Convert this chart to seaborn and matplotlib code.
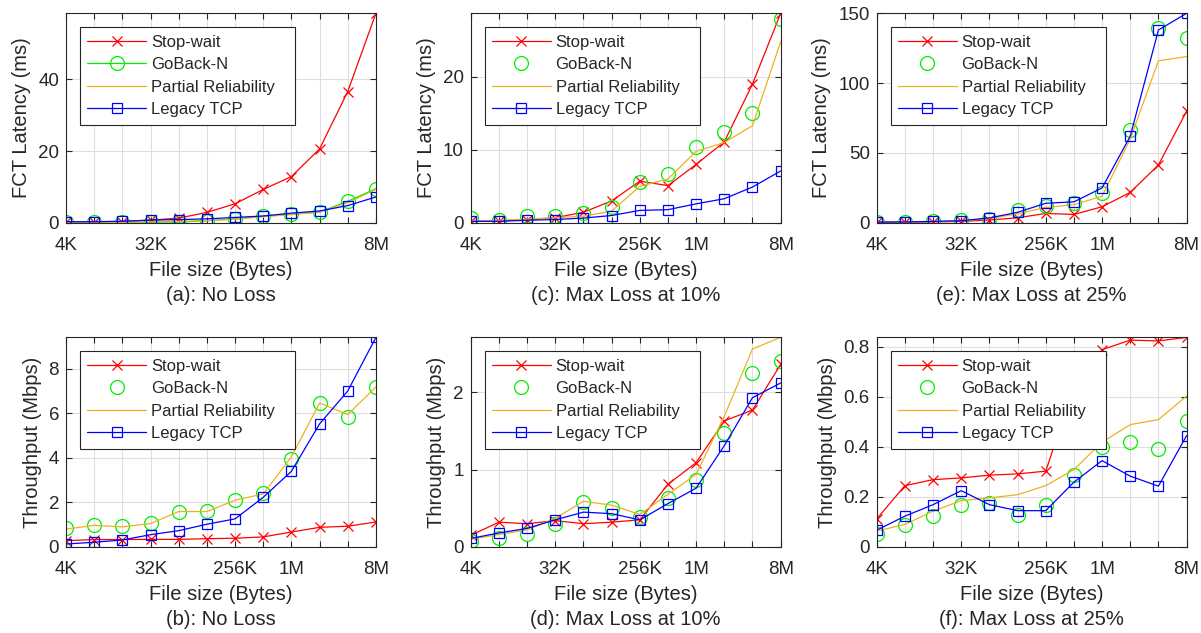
import numpy as np
import pandas as pd
import matplotlib
matplotlib.use("Agg")
import matplotlib.pyplot as plt
from matplotlib.ticker import MultipleLocator, FuncFormatter
import seaborn as sns

sizes = ["4K", "8K", "16K", "32K", "64K", "128K", "256K", "512K", "1M", "2M", "4M", "8M"]
shown = ["4K", "32K", "256K", "1M", "8M"]
series_names = ["Stop-wait", "GoBack-N", "Partial Reliability", "Legacy TCP"]

# FCT latency (ms)
fct_noloss_stopwait = [0.2, 0.2, 0.35, 0.75, 1.3, 2.9, 5.3, 9.3, 12.9, 20.6, 36.6, 58.4]
fct_noloss_gobackn = [0.1, 0.1, 0.15, 0.2, 0.2, 0.6, 1.1, 1.85, 2.4, 3.0, 6.0, 9.5]
fct_noloss_partial = [0.1, 0.1, 0.15, 0.25, 0.4, 0.6, 1.0, 1.7, 2.3, 3.0, 5.6, 9.3]
fct_noloss_tcp = [0.3, 0.3, 0.45, 0.75, 0.9, 1.1, 1.5, 1.9, 2.7, 3.3, 4.8, 7.2]

fct_loss10_stopwait = [0.27, 0.27, 0.45, 0.7, 1.45, 3.0, 5.7, 5.1, 8.0, 11.1, 19.0, 28.7]
fct_loss10_gobackn = [0.6, 0.45, 0.9, 1.0, 1.35, 2.2, 5.6, 6.7, 10.4, 12.4, 15.1, 27.9]
fct_loss10_partial = [0.3, 0.35, 0.5, 0.7, 0.9, 1.6, 5.0, 6.0, 9.8, 11.0, 13.3, 24.8]
fct_loss10_tcp = [0.2, 0.2, 0.35, 0.45, 0.65, 1.0, 1.7, 1.8, 2.6, 3.3, 4.9, 7.1]

fct_loss25_stopwait = [0.5, 0.5, 0.7, 1.0, 2.0, 3.6, 6.7, 6.0, 11.5, 21.8, 41.4, 79.9]
fct_loss25_gobackn = [0.3, 0.5, 1.0, 2.0, 2.4, 8.9, 12.0, 14.4, 21.5, 66.3, 139.5, 132.0]
fct_loss25_partial = [0.3, 0.5, 1.0, 1.5, 3.0, 6.5, 11.0, 13.0, 19.0, 60.0, 116.0, 119.0]
fct_loss25_tcp = [0.5, 0.6, 1.0, 1.5, 3.5, 7.5, 14.0, 15.0, 25.0, 62.0, 138.0, 150.0]

# Throughput (Mbps)
thr_noloss_stopwait = [0.28, 0.33, 0.33, 0.34, 0.34, 0.37, 0.39, 0.45, 0.67, 0.88, 0.93, 1.12]
thr_noloss_gobackn = [0.85, 1.0, 0.93, 1.08, 1.59, 1.62, 2.1, 2.43, 3.97, 6.47, 5.86, 7.19]
thr_noloss_partial = [0.8, 0.97, 0.9, 1.05, 1.59, 1.59, 2.1, 2.38, 4.05, 6.47, 5.95, 7.19]
thr_noloss_tcp = [0.13, 0.21, 0.31, 0.55, 0.73, 1.02, 1.26, 2.23, 3.4, 5.53, 7.01, 9.42]

thr_loss10_stopwait = [0.15, 0.32, 0.30, 0.34, 0.30, 0.32, 0.35, 0.81, 1.09, 1.63, 1.77, 2.36]
thr_loss10_gobackn = [0.07, 0.12, 0.17, 0.30, 0.58, 0.50, 0.39, 0.63, 0.86, 1.47, 2.25, 2.41]
thr_loss10_partial = [0.1, 0.16, 0.22, 0.37, 0.59, 0.54, 0.42, 0.68, 0.94, 1.69, 2.56, 2.71]
thr_loss10_tcp = [0.11, 0.18, 0.24, 0.35, 0.45, 0.43, 0.35, 0.56, 0.76, 1.31, 1.93, 2.12]

thr_loss25_stopwait = [0.112, 0.245, 0.269, 0.276, 0.287, 0.292, 0.303, 0.64, 0.789, 0.827, 0.824, 0.838]
thr_loss25_gobackn = [0.053, 0.087, 0.125, 0.169, 0.176, 0.129, 0.169, 0.289, 0.399, 0.419, 0.392, 0.505]
thr_loss25_partial = [0.063, 0.09, 0.143, 0.185, 0.196, 0.209, 0.245, 0.309, 0.419, 0.489, 0.509, 0.603]
thr_loss25_tcp = [0.067, 0.123, 0.169, 0.225, 0.169, 0.145, 0.145, 0.259, 0.345, 0.283, 0.243, 0.445]

panels = [
    ("(a): No Loss", "FCT Latency (ms)", 20,
     [fct_noloss_stopwait, fct_noloss_gobackn, fct_noloss_partial, fct_noloss_tcp], True),
    ("(c): Max Loss at 10%", "FCT Latency (ms)", 10,
     [fct_loss10_stopwait, fct_loss10_gobackn, fct_loss10_partial, fct_loss10_tcp], False),
    ("(e): Max Loss at 25%", "FCT Latency (ms)", 50,
     [fct_loss25_stopwait, fct_loss25_gobackn, fct_loss25_partial, fct_loss25_tcp], False),
    ("(b): No Loss", "Throughput (Mbps)", 2,
     [thr_noloss_stopwait, thr_noloss_gobackn, thr_noloss_partial, thr_noloss_tcp], False),
    ("(d): Max Loss at 10%", "Throughput (Mbps)", 1,
     [thr_loss10_stopwait, thr_loss10_gobackn, thr_loss10_partial, thr_loss10_tcp], False),
    ("(f): Max Loss at 25%", "Throughput (Mbps)", 0.2,
     [thr_loss25_stopwait, thr_loss25_gobackn, thr_loss25_partial, thr_loss25_tcp], False),
]

sns.set_theme(style="whitegrid")
plt.rcParams['font.family'] = ['Liberation Sans', 'DejaVu Sans']
plt.rcParams['text.color'] = '#262626'
plt.rcParams['axes.labelcolor'] = '#262626'

colors = ['#ff0000', '#00ee00', '#EDB120', '#0000ff']
markers = ['x', 'o', None, 's']
msizes = [7, 10, 0, 7]

fig = plt.figure(figsize=(12.01, 6.33), dpi=100)
lefts = [0.055, 0.392, 0.730]
bottoms = [0.648, 0.136]
w, h = 0.258, 0.331

x = np.arange(len(sizes))
for k, (caption, ylab, ystep, data, goback_line) in enumerate(panels):
    ax = fig.add_axes([lefts[k % 3], bottoms[k // 3], w, h])
    ymax = max(max(s) for s in data)
    for name, vals, c, m, ms in zip(series_names, data, colors, markers, msizes):
        df = pd.DataFrame({'x': x, 'y': vals})
        kw = dict(color=c, lw=0.9, label=name)
        if m is not None:
            kw.update(marker=m, ms=ms, mec=c, mew=0.9, mfc='none')
        if name == "GoBack-N" and not goback_line:
            kw['ls'] = 'none'
        sns.lineplot(data=df, x='x', y='y', ax=ax, **kw)
    ax.set_xlim(0, len(sizes) - 1)
    ax.set_ylim(0, ymax)
    ax.set_xticks(x)
    ax.set_xticklabels([s if s in shown else "" for s in sizes])
    ax.yaxis.set_major_locator(MultipleLocator(ystep))
    ax.yaxis.set_major_formatter(FuncFormatter(lambda v, p: "%g" % round(v, 6)))
    ax.tick_params(axis='both', direction='in', length=4, width=0.8, colors='#262626',
                   top=True, right=True, bottom=True, left=True, labelsize=13.5)
    ax.tick_params(axis='x', pad=10)
    ax.tick_params(axis='y', pad=5)
    ax.grid(True, color='#dedede', lw=0.8)
    for sp in ax.spines.values():
        sp.set_color('#262626')
        sp.set_linewidth(0.8)
    ax.set_xlabel("File size (Bytes)\n" + caption, fontsize=14.5, labelpad=5, linespacing=1.4)
    ax.set_ylabel(ylab, fontsize=14.5, labelpad=5)
    leg = ax.legend(loc='upper left', bbox_to_anchor=(0.045, 0.0, 0.694, 0.934),
                    mode='expand', borderaxespad=0, fontsize=12, frameon=True,
                    fancybox=False, framealpha=1, edgecolor='#262626',
                    handlelength=3.5, handletextpad=0.3, labelspacing=0.45, borderpad=0.45)
    leg.get_frame().set_linewidth(0.8)
    leg.set_zorder(10)

fig.savefig("out.png", dpi=100)
